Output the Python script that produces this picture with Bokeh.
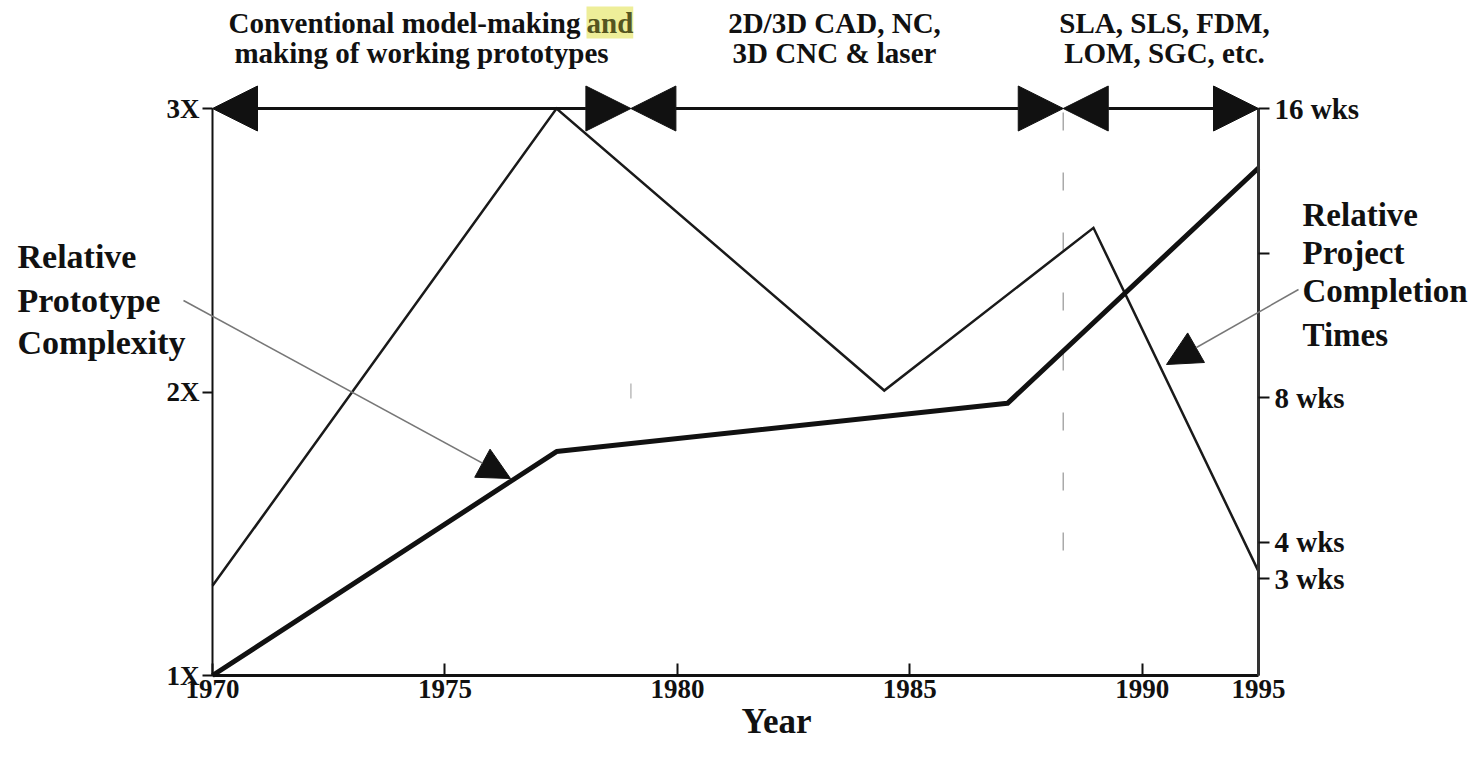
from bokeh.plotting import figure
from bokeh.models import Range1d, LinearAxis, FixedTicker, Arrow, NormalHead, Label
from bokeh.embed import file_html
from bokeh.resources import INLINE

# ---------------- data ----------------
years_complexity = [1970, 1977.4, 1987.1, 1992.5]
complexity = [1.0, 1.79, 1.96, 2.79]

years_completion = [1970, 1977.4, 1984.45, 1988.95, 1992.5]
completion_weeks = [2.8, 16.0, 8.2, 12.7, 3.2]

era_start = [1970.0, 1979.0, 1988.3]
era_end = [1979.0, 1988.3, 1992.5]
era_line1 = ["Conventional model-making", "2D/3D CAD, NC,", "SLA, SLS, FDM,"]
era_line2 = ["making of working prototypes", "3D CNC & laser", "LOM, SGC, etc."]

x_ticks = [1970, 1975, 1980, 1985, 1990, 1992.5]
x_tick_labels = ["1970", "1975", "1980", "1985", "1990", "1995"]
left_ticks = [1, 2, 3]
left_tick_labels = ["1X", "2X", "3X"]
right_ticks = [3, 4, 8, 12, 16]
right_tick_labels = ["3 wks", "4 wks", "8 wks", "", "16 wks"]

X0, X1 = 1970, 1992.5      # drawn year axis extent
Y0, Y1 = 1, 3              # complexity axis extent
W0, W1 = 0.32, 16          # weeks axis extent

FONT = "Liberation Serif"

# geometry of the drawn axes box on the picture (px)
BOX_L, BOX_R, BOX_T, BOX_B = 212, 1258, 108, 675
CW, CH = 1468, 741

def px2x(px):
    return X0 + (px - BOX_L) * (X1 - X0) / (BOX_R - BOX_L)

def py2y(py):
    return Y0 + (BOX_B - py) * (Y1 - Y0) / (BOX_B - BOX_T)

def py2w(py):
    return W1 - (py - BOX_T) * (W1 - W0) / (BOX_B - BOX_T)

p = figure(width=CW, height=CH, output_backend="svg", toolbar_location=None,
           x_range=Range1d(px2x(0), px2x(CW)),
           y_range=Range1d(py2y(CH), py2y(0)),
           min_border=0, y_axis_location=None, x_axis_location=None)
p.extra_y_ranges = {"weeks": Range1d(py2w(CH), py2w(0))}
p.outline_line_color = None
p.grid.visible = False
p.background_fill_color = "white"
p.border_fill_color = "white"

def style_axis(ax, size="27px"):
    ax.major_label_text_font = FONT
    ax.major_label_text_font_style = "bold"
    ax.major_label_text_font_size = size
    ax.major_label_text_color = "#111111"
    ax.minor_tick_line_color = None
    ax.major_tick_line_color = "#111111"
    ax.major_tick_line_width = 2

xaxis = LinearAxis(ticker=FixedTicker(ticks=x_ticks), fixed_location=Y0, bounds=(X0, X1))
xaxis.major_label_overrides = {t: l for t, l in zip(x_ticks, x_tick_labels)}
style_axis(xaxis)
xaxis.major_tick_in = 12
xaxis.major_tick_out = 0
xaxis.major_label_standoff = 4
xaxis.axis_line_width = 3
xaxis.axis_line_color = "#111111"
p.add_layout(xaxis, "below")

laxis = LinearAxis(ticker=FixedTicker(ticks=left_ticks), fixed_location=X0, bounds=(Y0, Y1))
laxis.major_label_overrides = {t: l for t, l in zip(left_ticks, left_tick_labels)}
style_axis(laxis)
laxis.major_tick_in = 0
laxis.major_tick_out = 10
laxis.major_label_standoff = 3
laxis.axis_line_width = 2
laxis.axis_line_color = "#111111"
p.add_layout(laxis, "left")

raxis = LinearAxis(y_range_name="weeks", ticker=FixedTicker(ticks=right_ticks),
                   fixed_location=X1, bounds=(W0, W1))
raxis.major_label_overrides = {t: l for t, l in zip(right_ticks, right_tick_labels)}
style_axis(raxis, "29px")
raxis.major_tick_in = 0
raxis.major_tick_out = 11
raxis.major_label_standoff = 5
raxis.axis_line_width = 3
raxis.axis_line_color = "#333333"
p.add_layout(raxis, "right")

# boundary marks
p.segment(x0=[era_end[1]], y0=[py2y(112)], x1=[era_end[1]], y1=[py2y(555)],
          line_color="#aaaaaa", line_width=1.5, line_dash="18 42")
p.segment(x0=[era_end[0]], y0=[py2y(383)], x1=[era_end[0]], y1=[py2y(398)],
          line_color="#bbbbbb", line_width=1.5)

# data lines
p.line(years_completion, completion_weeks, y_range_name="weeks",
       line_color="#1a1a1a", line_width=2.5, line_join="miter")
p.line(years_complexity, complexity, line_color="#111111", line_width=5,
       line_join="round")

# era arrows along top
for s, e in zip(era_start, era_end):
    p.add_layout(Arrow(x_start=s, y_start=Y1, x_end=e, y_end=Y1,
                       start=NormalHead(size=45, fill_color="#111111", line_color="#111111"),
                       end=NormalHead(size=45, fill_color="#111111", line_color="#111111"),
                       line_color="#111111", line_width=3))

# era labels
era_cx = [px2x(430), px2x(834), px2x(1164)]
top_y1 = py2y(22)
top_y2 = py2y(52)
lab_kw = dict(text_font=FONT, text_font_style="bold", text_font_size="29px",
              text_color="#111111", text_baseline="middle")
p.add_layout(Label(x=px2x(580), y=top_y1, text=era_line1[0], text_align="right", **lab_kw))
p.add_layout(Label(x=px2x(586), y=top_y1, text="and", text_align="left",
                   background_fill_color="#eeee99",
                   **{**lab_kw, "text_color": "#55551f"}))
p.add_layout(Label(x=px2x(421), y=top_y2, text=era_line2[0], text_align="center", **lab_kw))
for i in (1, 2):
    p.add_layout(Label(x=era_cx[i], y=top_y1, text=era_line1[i], text_align="center", **lab_kw))
    p.add_layout(Label(x=era_cx[i], y=top_y2, text=era_line2[i], text_align="center", **lab_kw))

# series annotations
ann_kw = dict(text_font=FONT, text_font_style="bold", text_font_size="34px",
              text_color="#111111", text_baseline="alphabetic", text_align="left")
for txt, by in zip(["Relative", "Prototype", "Complexity"], [256, 300, 342]):
    p.add_layout(Label(x=px2x(17), y=py2y(by), text=txt, **ann_kw))
ann_kw["text_font_size"] = "33px"
for txt, by in zip(["Relative", "Project", "Completion", "Times"], [214, 252, 290, 334]):
    p.add_layout(Label(x=px2x(1302), y=py2y(by), text=txt, **ann_kw))

p.add_layout(Arrow(x_start=px2x(183), y_start=py2y(300), x_end=px2x(510), y_end=py2y(478),
                   end=NormalHead(size=32, fill_color="#111111", line_color="#111111"),
                   line_color="#777777", line_width=1.5))
p.add_layout(Arrow(x_start=px2x(1298), y_start=py2w(289), x_end=px2x(1166), y_end=py2w(364),
                   y_range_name="weeks",
                   end=NormalHead(size=34, fill_color="#111111", line_color="#111111"),
                   line_color="#777777", line_width=1.5))

p.add_layout(Label(x=px2x(776), y=py2y(740), text="Year", text_align="center",
                   text_baseline="bottom", text_font=FONT, text_font_style="bold",
                   text_font_size="35px", text_color="#111111"))

open("out.html", "w").write(file_html(p, INLINE))
